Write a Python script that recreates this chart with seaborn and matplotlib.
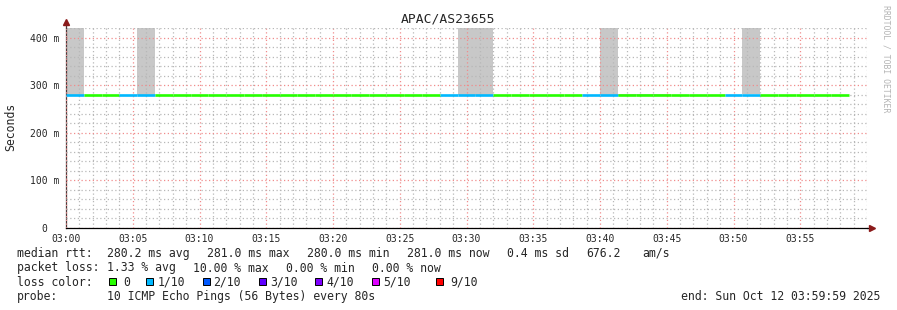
import matplotlib
matplotlib.use("Agg")
import matplotlib.pyplot as plt
from matplotlib.patches import Rectangle
import seaborn as sns
import pandas as pd

# ---------------- data ----------------
title = "APAC/AS23655"
step_s = 80  # probe interval
# median rtt per 80 s sample (ms), 44 samples from 03:00
median_ms = [280.0, 280.0, 280.0, 280.0, 280.0, 280.0, 280.0, 280.0, 280.0, 280.0,
             280.0, 280.0, 280.0, 280.0, 280.0, 280.0, 280.0, 280.0, 280.0, 280.0,
             280.0, 280.0, 280.0, 280.0, 280.0, 280.0, 280.0, 280.0, 280.0, 280.0,
             280.0, 280.0, 280.0, 280.0, 281.0, 281.0, 281.0, 281.0, 281.0, 281.0,
             281.0, 281.0, 281.0, 281.0]
# lost pings (of 10) per sample -> line colour
loss = [1, 0, 0, 1, 1, 0, 0, 0, 0, 0,
        0, 0, 0, 0, 0, 0, 0, 0, 0, 0,
        0, 1, 1, 1, 0, 0, 0, 0, 0, 1,
        1, 0, 0, 0, 0, 0, 0, 1, 1, 0,
        0, 0, 0, 0]
# smoke top (ms) per sample (values above the chart top are clipped)
smoke_top_ms = [500, 280, 280, 280, 500, 280, 280, 280, 280, 280,
                280, 280, 280, 280, 280, 280, 280, 280, 280, 280,
                280, 280, 500, 500, 280, 280, 280, 280, 280, 280,
                500, 281, 281, 281, 281, 281, 281, 281, 500, 281,
                281, 281, 281, 281]

loss_labels = ["0", "1/10", "2/10", "3/10", "4/10", "5/10", "9/10"]
loss_colors = ["#26ff00", "#00b8ff", "#0059ff", "#5e00ff", "#7e00ff", "#dd00ff", "#ff0000"]

x_tick_labels = ["03:00", "03:05", "03:10", "03:15", "03:20", "03:25",
                 "03:30", "03:35", "03:40", "03:45", "03:50", "03:55"]
y_ticks = [0, 100, 200, 300, 400]
y_tick_labels = ["0  ", "100 m", "200 m", "300 m", "400 m"]

stats_rtt = [("median rtt:", 16.5), ("280.2 ms avg", 107.3), ("281.0 ms max", 207.3),
             ("280.0 ms min", 307.3), ("281.0 ms now", 406.7), ("0.4 ms sd", 507.3),
             ("676.2", 586.7), ("am/s", 642.7)]
stats_loss = [("packet loss:", 16.5), ("1.33 % avg", 107.3), ("10.00 % max", 193.3),
              ("0.00 % min", 286.0), ("0.00 % now", 372.3)]
probe_text = "10 ICMP Echo Pings (56 Bytes) every 80s"
end_text = "end: Sun Oct 12 03:59:59 2025"

# ---------------- figure ----------------
sns.set_style("white")
plt.rcParams["font.family"] = ["DejaVu Sans Mono", "DejaVu Sans"]

W, H = 897, 310
fig = plt.figure(figsize=(W / 100, H / 100), dpi=100)
fig.patch.set_facecolor("white")


def fx(px):
    return px / W


def fy(py):
    return 1 - py / H


ax = fig.add_axes([fx(66), fy(228), 801 / W, 200 / H])
ax.set_facecolor("white")

df = pd.DataFrame({
    "t": [i * step_s / 60 for i in range(len(median_ms))],
    "median": median_ms,
    "loss": loss,
    "top": smoke_top_ms,
})
width_min = step_s / 60

# smoke bars
ax.bar(df["t"], [t - m for t, m in zip(df["top"], df["median"])], bottom=df["median"] + 1.0,
       width=width_min, align="edge", color="#c8c8c8", linewidth=0, zorder=1)

# median line coloured by loss
cols = [loss_colors[l] for l in df["loss"]]
ax.hlines(df["median"], df["t"], df["t"] + width_min, colors=cols, linewidth=1.9, zorder=3)

ax.set_xlim(0, 60)
ax.set_ylim(0, 421)

ax.set_xticks([i * 5 for i in range(len(x_tick_labels))])
ax.set_xticklabels(x_tick_labels)
ax.set_xticks(range(0, 61), minor=True)
ax.set_yticks(y_ticks)
ax.set_yticklabels(y_tick_labels)
ax.set_yticks(range(0, 421, 20), minor=True)

ax.set_axisbelow(False)
ax.grid(which="major", color="#f08c8c", linestyle=(0, (1, 2)), linewidth=0.9, zorder=2)
ax.grid(which="minor", color="#b8b8b8", linestyle=(0, (1, 2)), linewidth=0.9, zorder=2)

ax.tick_params(axis="both", which="major", labelsize=7, length=2, width=0.8,
               color="black", direction="out", pad=2.5)
ax.tick_params(axis="both", which="minor", length=0)

for s in ["top", "right"]:
    ax.spines[s].set_visible(False)
ax.spines["left"].set_color("#4a3a3a")
ax.spines["left"].set_linewidth(0.9)
ax.spines["bottom"].set_color("black")
ax.spines["bottom"].set_linewidth(0.9)

# axis arrows
ax.plot([60, 60.3], [0, 0], color="black", lw=0.9, clip_on=False, zorder=4)
ax.plot([60.4], [0], marker=">", ms=5, color="#8b1a1a", clip_on=False, zorder=5)
ax.plot([0, 0], [421, 430], color="#4a3a3a", lw=0.9, clip_on=False, zorder=4)
ax.plot([0], [434], marker="^", ms=5, color="#8b1a1a", clip_on=False, zorder=5)

# title and labels
fig.text(0.5, fy(19), title, ha="center", va="center", fontsize=9.4)
fig.text(fx(11), fy(127), "Seconds", rotation=90, ha="center", va="center", fontsize=8.3)
fig.text(fx(886), fy(59), "RRDTOOL / TOBI OETIKER", rotation=270, ha="center", va="center",
         fontsize=5.9, color="#b4b4b4")

fs = 8.3
row_y = [253.5, 268.0, 282.0, 296.5]
for txt, x in stats_rtt:
    fig.text(fx(x), fy(row_y[0]), txt, ha="left", va="center", fontsize=fs)
for txt, x in stats_loss:
    fig.text(fx(x), fy(row_y[1]), txt, ha="left", va="center", fontsize=fs)

fig.text(fx(16.5), fy(row_y[2]), "loss color:", ha="left", va="center", fontsize=fs)
box_x = [108.7, 145.7, 202.7, 259.3, 315.0, 371.7, 436.0]
lab_x = [123.3, 158.0, 213.0, 270.0, 326.7, 383.0, 450.0]
for bx, lx, lab, c in zip(box_x, lab_x, loss_labels, loss_colors):
    fig.patches.append(Rectangle((fx(bx), fy(284.5)), 7 / W, 7 / H, transform=fig.transFigure,
                                 facecolor=c, edgecolor="black", linewidth=0.7))
    fig.text(fx(lx), fy(row_y[2]), lab, ha="left", va="center", fontsize=fs)

fig.text(fx(16.5), fy(row_y[3]), "probe:", ha="left", va="center", fontsize=fs)
fig.text(fx(107.3), fy(row_y[3]), probe_text, ha="left", va="center", fontsize=fs)
fig.text(fx(880.5), fy(row_y[3]), end_text, ha="right", va="center", fontsize=fs)

fig.savefig("out.png", dpi=100, facecolor="white")
